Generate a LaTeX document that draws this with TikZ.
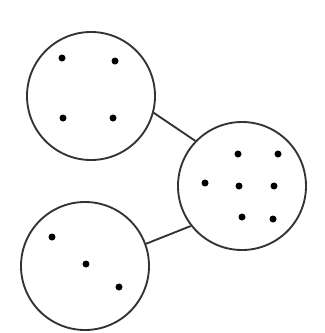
\documentclass[tikz,border=0pt]{standalone}
\usepackage{tikz}
\tikzset{
  groupcirc/.style={circle, draw=black!80, line width=1.6pt, inner sep=0pt, minimum size=3.84cm},
  elemdot/.style={circle, fill=black, inner sep=0pt, minimum size=0.21cm},
  joinline/.style={draw=black!80, line width=1.6pt}
}
\begin{document}
\begin{tikzpicture}[x=0.03cm,y=-0.03cm]
\useasboundingbox (0,0) rectangle (324,333);
\node[groupcirc] (gTop) at (91,96) {};
\node[groupcirc] (gRight) at (242,186) {};
\node[groupcirc] (gBottom) at (85,266) {};
\node[elemdot] (t1) at (62,58) {};
\node[elemdot] (t2) at (115,61) {};
\node[elemdot] (t3) at (63,118) {};
\node[elemdot] (t4) at (113,118) {};
\node[elemdot] (r1) at (238,154) {};
\node[elemdot] (r2) at (278,154) {};
\node[elemdot] (r3) at (205,183) {};
\node[elemdot] (r4) at (239,186) {};
\node[elemdot] (r5) at (274,186) {};
\node[elemdot] (r6) at (242,217) {};
\node[elemdot] (r7) at (273,219) {};
\node[elemdot] (b1) at (52,237) {};
\node[elemdot] (b2) at (86,264) {};
\node[elemdot] (b3) at (119,287) {};
\draw[joinline] (gTop.-15) -- (gRight.136);
\draw[joinline] (gBottom.20) -- (gRight.218);
\end{tikzpicture}
\end{document}
